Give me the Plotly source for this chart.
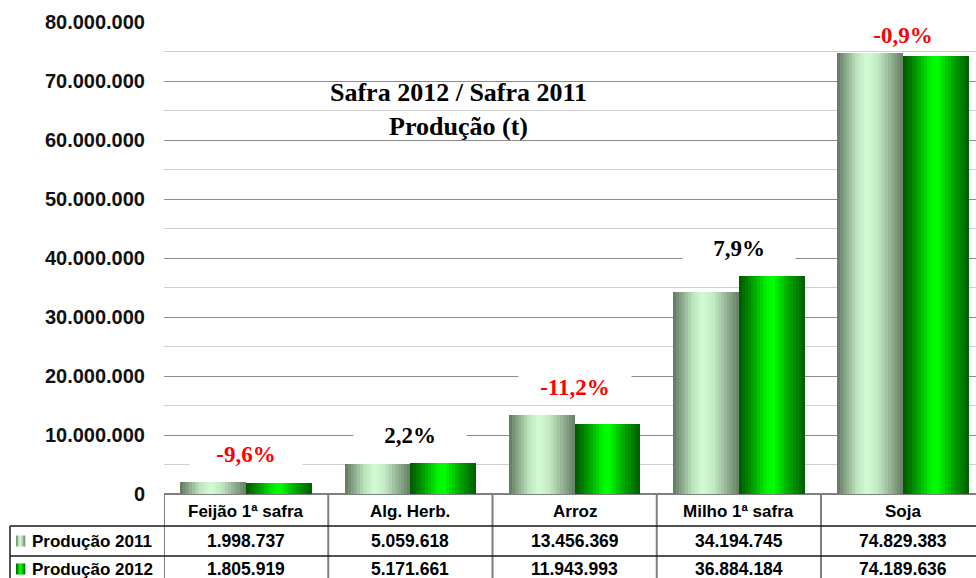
import plotly.graph_objects as go

# ---------------- data ----------------
categories = ["Feijão 1ª safra", "Alg. Herb.", "Arroz", "Milho 1ª safra", "Soja"]
prod_2011 = [1998737, 5059618, 13456369, 34194745, 74829383]
prod_2012 = [1805919, 5171661, 11943993, 36884184, 74189636]
variation = ["-9,6%", "2,2%", "-11,2%", "7,9%", "-0,9%"]
series_names = ["Produção 2011", "Produção 2012"]
title_lines = ["Safra 2012 / Safra 2011", "Produção (t)"]

# ---------------- geometry helpers (layout) ----------------
W, H = 976, 578
PL, PR, PT, PB = 164, 976, 22, 494  # plot area in pixels
YMAX = 80e6
XR = [-0.5, -0.5 + (PR - PL) / 164.25]


def px_x(x):
    return (x - PL) / (PR - PL)


def px_y(y):
    return (PB - y) / (PB - PT)


def hex2rgb(h):
    h = h.lstrip("#")
    return tuple(int(h[i:i + 2], 16) for i in (0, 2, 4))


def grad(stops, t):
    for (t0, c0), (t1, c1) in zip(stops, stops[1:]):
        if t0 <= t <= t1:
            f = 0 if t1 == t0 else (t - t0) / (t1 - t0)
            a, b = hex2rgb(c0), hex2rgb(c1)
            return "rgb(%d,%d,%d)" % tuple(round(a[i] + (b[i] - a[i]) * f) for i in range(3))
    return stops[-1][1]


stops_2011 = [(0, "#5e775e"), (0.12, "#86a386"), (0.3, "#bde4bd"), (0.45, "#d4fcd4"),
              (0.62, "#c2e9c2"), (0.82, "#92b092"), (1, "#657f65")]
stops_2012 = [(0, "#005500"), (0.18, "#009400"), (0.42, "#00f500"), (0.52, "#00ff00"),
              (0.75, "#00a800"), (1, "#005c00")]

fig = go.Figure()
N = 22
BW = 0.4
for s, (vals, stops) in enumerate([(prod_2011, stops_2011), (prod_2012, stops_2012)]):
    base = -BW + s * BW
    for j in range(N):
        t = (j + 0.5) / N
        fig.add_trace(go.Bar(
            x=categories, y=vals,
            offset=base + j * BW / N, width=BW - j * BW / N,
            marker=dict(color=grad(stops, t), line=dict(width=0)),
            showlegend=False, hoverinfo="skip" if j else "y",
            name=series_names[s],
        ))

ann = []
# title
ann.append(dict(xref="paper", yref="paper", x=px_x(458), y=px_y(110), xanchor="center", yanchor="middle",
                text="<b>" + "<br>".join(title_lines) + "</b>", showarrow=False,
                font=dict(family="Liberation Serif", size=26, color="black"), align="center"))

# variation labels
ppu = (PB - PT) / YMAX
for i, c in enumerate(categories):
    top = max(prod_2011[i], prod_2012[i])
    shift = min(28, (YMAX - top) * ppu - 13)
    col = "#ff0000" if variation[i].startswith("-") else "black"
    ann.append(dict(xref="x", yref="y", x=c, y=top, yshift=shift, text="<b>%s</b>" % variation[i],
                    showarrow=False, bgcolor="white", width=110, height=28,
                    xanchor="center", yanchor="middle",
                    font=dict(family="Liberation Serif", size=23, color=col)))

# table text
def fmt(v):
    return f"{v:,}".replace(",", ".")

for i, c in enumerate(categories):
    ann.append(dict(xref="x", yref="paper", x=c, y=px_y(511), text="<b>%s</b>" % c, showarrow=False,
                    xanchor="center", yanchor="middle",
                    font=dict(family="Liberation Sans", size=17, color="black")))
    ann.append(dict(xref="x", yref="paper", x=c, y=px_y(541), text="<b>%s</b>" % fmt(prod_2011[i]),
                    showarrow=False, xanchor="center", yanchor="middle",
                    font=dict(family="Liberation Sans", size=17.5, color="black")))
    ann.append(dict(xref="x", yref="paper", x=c, y=px_y(569), text="<b>%s</b>" % fmt(prod_2012[i]),
                    showarrow=False, xanchor="center", yanchor="middle",
                    font=dict(family="Liberation Sans", size=17.5, color="black")))
for k, yy in enumerate([541, 569]):
    ann.append(dict(xref="paper", yref="paper", x=px_x(30), y=px_y(yy), xanchor="left", yanchor="middle",
                    text="<b>%s</b>" % series_names[k], showarrow=False,
                    font=dict(family="Liberation Sans", size=17, color="black")))

shapes = []
# table lines
for i in range(len(categories)):
    shapes.append(dict(type="line", xref="x", yref="paper", x0=i - 0.5, x1=i - 0.5,
                       y0=px_y(494), y1=px_y(590), line=dict(color="#7f7f7f", width=2)))
for yy in [526, 556]:
    shapes.append(dict(type="line", xref="paper", yref="paper", x0=px_x(10), x1=px_x(990),
                       y0=px_y(yy), y1=px_y(yy), line=dict(color="#1a1a1a", width=1.5)))
shapes.append(dict(type="line", xref="paper", yref="paper", x0=px_x(10), x1=px_x(10),
                   y0=px_y(526), y1=px_y(590), line=dict(color="#1a1a1a", width=1.5)))
# legend keys
for k, (yy, stops) in enumerate([(541, stops_2011), (569, stops_2012)]):
    nk = 5
    for j in range(nk):
        x0 = 16 + j * 9 / nk
        shapes.append(dict(type="rect", xref="paper", yref="paper", x0=px_x(x0), x1=px_x(x0 + 9 / nk + 0.3),
                           y0=px_y(yy - 5.5), y1=px_y(yy + 5.5), line=dict(width=0),
                           fillcolor=grad(stops, (j + 0.5) / nk)))

fig.update_layout(
    width=W, height=H, barmode="overlay", bargap=0,
    paper_bgcolor="white", plot_bgcolor="white",
    margin=dict(l=PL, r=W - PR, t=PT, b=H - PB, pad=0),
    separators=",.",
    annotations=ann, shapes=shapes,
    xaxis=dict(range=XR, showticklabels=False, showgrid=False, zeroline=False, showline=False,
               type="category"),
    yaxis=dict(range=[0, YMAX], dtick=10e6, tickformat=",d", showgrid=True, gridcolor="#8c8c8c",
               gridwidth=1, zeroline=True, zerolinecolor="#7f7f7f", zerolinewidth=2,
               showline=False, ticks="", ticklabelstandoff=18,
               tickfont=dict(family="Liberation Sans", size=20, color="#111111", weight="bold"),
               minor=dict(dtick=5e6, showgrid=True, gridcolor="#cfcfcf", gridwidth=1)),
    showlegend=False,
)

fig.write_html("out.html", config={"displayModeBar": False},
               post_script="document.body.style.margin='0';")
